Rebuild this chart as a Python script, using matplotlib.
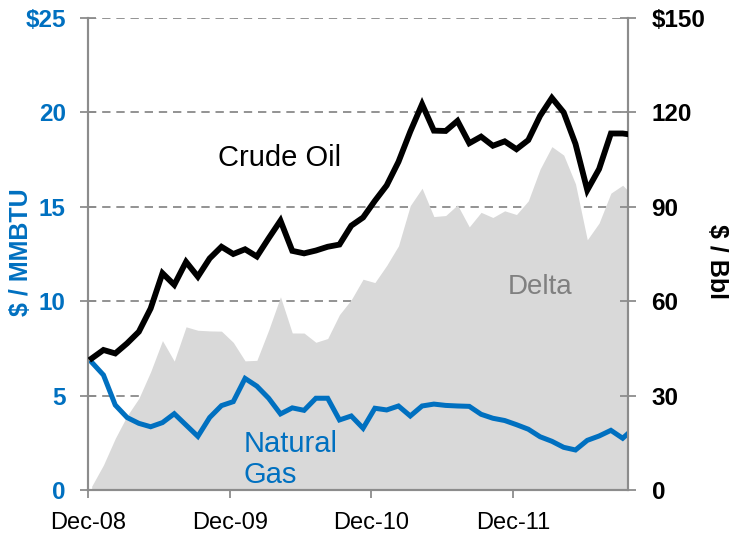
import matplotlib
matplotlib.use("Agg")
import matplotlib.pyplot as plt
import numpy as np

plt.rcParams['font.family'] = ['Liberation Sans', 'DejaVu Sans']

# Monthly data, Dec-08 onward
months = ["Dec-08", "Jan-09", "Feb-09", "Mar-09", "Apr-09", "May-09", "Jun-09", "Jul-09",
          "Aug-09", "Sep-09", "Oct-09", "Nov-09", "Dec-09", "Jan-10", "Feb-10", "Mar-10",
          "Apr-10", "May-10", "Jun-10", "Jul-10", "Aug-10", "Sep-10", "Oct-10", "Nov-10",
          "Dec-10", "Jan-11", "Feb-11", "Mar-11", "Apr-11", "May-11", "Jun-11", "Jul-11",
          "Aug-11", "Sep-11", "Oct-11", "Nov-11", "Dec-11", "Jan-12", "Feb-12", "Mar-12",
          "Apr-12", "May-12", "Jun-12", "Jul-12", "Aug-12", "Sep-12", "Oct-12"]

# Natural gas, $/MMBTU (left axis)
gas = [6.77, 6.09, 4.50, 3.84, 3.53, 3.35, 3.57, 4.04, 3.44, 2.84, 3.84, 4.47, 4.68,
       5.91, 5.50, 4.86, 4.03, 4.35, 4.22, 4.86, 4.86, 3.71, 3.92, 3.27, 4.33, 4.24,
       4.45, 3.92, 4.45, 4.55, 4.48, 4.45, 4.43, 4.01, 3.80, 3.68, 3.46, 3.22, 2.82,
       2.58, 2.26, 2.12, 2.63, 2.86, 3.16, 2.74, 3.30]

# Crude oil, $/Bbl (right axis)
oil = [41.8, 44.5, 43.4, 46.6, 50.3, 57.7, 68.9, 65.2, 72.5, 67.8, 73.6, 77.3, 75.0,
       76.5, 74.2, 80.0, 85.6, 76.0, 75.2, 76.1, 77.3, 78.0, 84.0, 86.6, 91.9, 96.8,
       104.3, 113.9, 122.6, 114.2, 114.1, 117.3, 110.2, 112.3, 109.4, 110.8, 108.3,
       111.2, 118.9, 124.6, 120.0, 110.0, 95.3, 102.0, 113.3, 113.3, 112.8]

xtick_labels = ["Dec-08", "Dec-09", "Dec-10", "Dec-11"]
left_ticks = [0, 5, 10, 15, 20, 25]
left_tick_labels = ["0", "5", "10", "15", "20", "$25"]
right_ticks = [0, 30, 60, 90, 120, 150]
right_tick_labels = ["0", "30", "60", "90", "120", "$150"]

BLUE = "#0070C0"
GREY_FILL = "#D9D9D9"
SPINE = "#8C8C8C"

x = np.arange(len(months))
gas_a = np.array(gas)
oil_a = np.array(oil)
# Delta: oil converted to $/MMBTU (÷6) minus natural gas
delta = oil_a / 6.0 - gas_a

fig = plt.figure(figsize=(7.29, 5.39), dpi=100)
ax = fig.add_axes([88 / 729, 1 - 490 / 539, 540 / 729, 472 / 539])
ax2 = ax.twinx()

ax.fill_between(x, 0, delta, color=GREY_FILL, linewidth=0, zorder=1)
ax.plot(x, gas_a, color=BLUE, lw=3.6, solid_joinstyle='miter', zorder=3)
ax2.plot(x, oil_a, color="black", lw=4.2, solid_joinstyle='miter', zorder=3)

xmin, xmax = -0.31, 45.45
ax.set_xlim(xmin, xmax)
ax.set_ylim(0, 25)
ax2.set_ylim(0, 150)

ax.set_xticks([12 * k - 0.3 for k in range(len(xtick_labels))])
ax.set_xticklabels(xtick_labels)
ax.set_yticks(left_ticks)
ax.set_yticklabels(left_tick_labels)
ax2.set_yticks(right_ticks)
ax2.set_yticklabels(right_tick_labels)

ax.set_axisbelow(True)
ax.yaxis.grid(True, color="#808080", linestyle=(0, (5, 3.5)), lw=1.2, zorder=0)

for a in (ax, ax2):
    a.spines['top'].set_visible(False)
    for s in ('left', 'right', 'bottom'):
        a.spines[s].set_color(SPINE)
        a.spines[s].set_linewidth(1.5)

ax.tick_params(axis='y', direction='inout', length=12, width=1.3, color=SPINE,
               labelsize=17.5, labelcolor=BLUE, pad=10)
for t in ax.get_yticklabels():
    t.set_fontweight('bold')
ax2.tick_params(axis='y', direction='inout', length=12, width=1.3, color=SPINE,
                labelsize=17.5, labelcolor='black', pad=11)
for t in ax2.get_yticklabels():
    t.set_fontweight('bold')
ax.tick_params(axis='x', direction='out', length=6, width=1.3, color=SPINE,
               labelsize=17, labelcolor='black', pad=10)

# Series annotations
ax.text(15.96, 17.58, "Crude Oil", fontsize=21, color="black", ha='center', va='center', zorder=5)
ax.text(38.0, 10.75, "Delta", fontsize=20, color="#808080", ha='center', va='center', zorder=5)
ax.text(12.9, 1.6, "Natural\nGas", fontsize=21, color=BLUE, ha='left', va='center',
        linespacing=1.15, zorder=5)

fig.text(21 / 729, 1 - 252 / 539, "$ / MMBTU", rotation=90, color=BLUE, fontsize=18,
         fontweight='bold', ha='center', va='center')
fig.text(717 / 729, 1 - 262 / 539, "$ / Bbl", rotation=270, color='black', fontsize=18,
         fontweight='bold', ha='center', va='center')

fig.savefig("out.png", dpi=100)
